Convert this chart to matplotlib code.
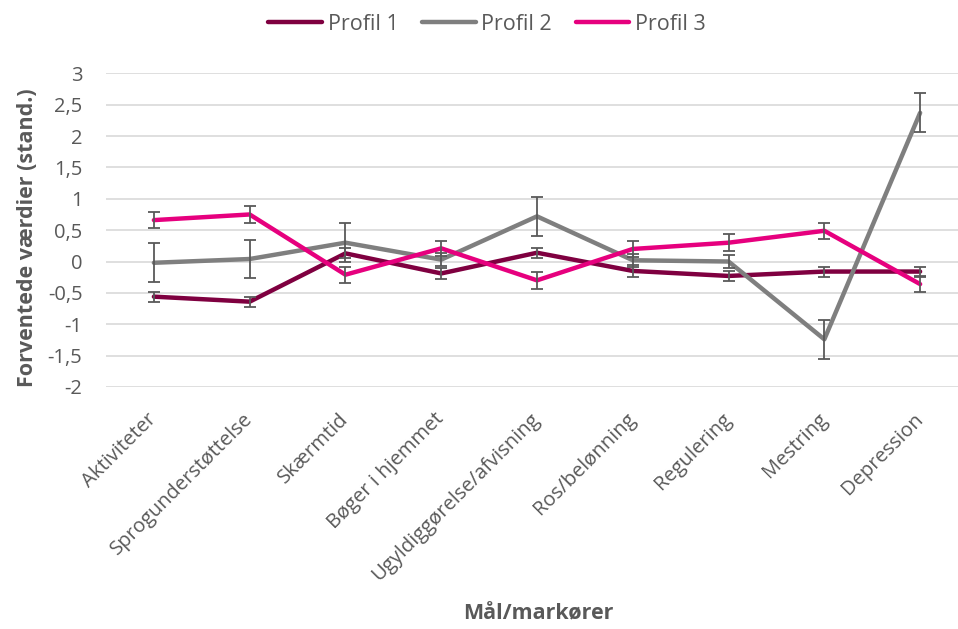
import matplotlib
matplotlib.use("Agg")
import matplotlib.pyplot as plt
import numpy as np

categories = ["Aktiviteter", "Sprogunderstøttelse", "Skærmtid", "Bøger i hjemmet",
              "Ugyldiggørelse/afvisning", "Ros/belønning", "Regulering", "Mestring", "Depression"]
series_names = ["Profil 1", "Profil 2", "Profil 3"]
profil1 = [-0.56, -0.64, 0.13, -0.19, 0.14, -0.15, -0.23, -0.16, -0.16]
profil1_err = [0.08, 0.08, 0.08, 0.09, 0.08, 0.10, 0.08, 0.08, 0.08]
profil2 = [-0.02, 0.04, 0.30, 0.03, 0.72, 0.02, 0.00, -1.24, 2.37]
profil2_err = [0.31, 0.31, 0.31, 0.10, 0.31, 0.10, 0.10, 0.31, 0.31]
profil3 = [0.66, 0.75, -0.21, 0.21, -0.30, 0.20, 0.30, 0.49, -0.36]
profil3_err = [0.13, 0.13, 0.13, 0.12, 0.14, 0.13, 0.14, 0.13, 0.13]
yticks = [-2, -1.5, -1, -0.5, 0, 0.5, 1, 1.5, 2, 2.5, 3]
ytick_labels = ["-2", "-1,5", "-1", "-0,5", "0", "0,5", "1", "1,5", "2", "2,5", "3"]

colors = ["#7F0040", "#7F7F7F", "#E6007E"]
FONT = "Open Sans"
TXT = "#595959"

fig = plt.figure(figsize=(9.58, 6.29), dpi=100)
W, H = 958, 629
ax = fig.add_axes([106 / W, 1 - 387 / H, (968 - 106) / W, (387 - 73.3) / H])

x = np.arange(len(categories))
data = [(profil1, profil1_err), (profil2, profil2_err), (profil3, profil3_err)]
handles = []
for (vals, errs), c, name in zip(data, colors, series_names):
    ln, = ax.plot(x, vals, color=c, lw=3.2, solid_capstyle="round",
                  solid_joinstyle="round", label=name, zorder=3)
    handles.append(ln)
    ax.errorbar(x, vals, yerr=errs, fmt="none", ecolor="#595959", elinewidth=1.3,
                capsize=4.3, capthick=1.3, zorder=4)

ax.set_xlim(-0.5, len(categories) - 0.5)
ax.set_ylim(-2, 3)
ax.set_yticks(yticks)
ax.set_yticklabels(ytick_labels, fontsize=14.5, color=TXT, family=FONT)
ax.set_xticks(x)
ax.set_xticklabels(categories, rotation=45, ha="right", va="center", rotation_mode="anchor",
                   fontsize=14.5, color=TXT, family=FONT)
ax.tick_params(axis="y", length=0, pad=17)
ax.tick_params(axis="x", length=0, pad=21)
ax.grid(axis="y", color="#D9D9D9", lw=1.2, zorder=0)
for s in ax.spines.values():
    s.set_visible(False)

ax.set_ylabel("Forventede værdier (stand.)", fontsize=15.5, fontweight="bold",
              color=TXT, family=FONT)
ax.yaxis.set_label_coords(-68 / (968 - 106), (387 - 237.5) / (387 - 73.3))
fig.text(538 / W, 1 - 614 / H, "Mål/markører", fontsize=15.5, fontweight="bold",
         color=TXT, family=FONT, ha="center", va="center")

leg = fig.legend(handles=handles, loc="center", bbox_to_anchor=(487 / W, 1 - 24 / H),
                 ncol=3, frameon=False, handlelength=2.5, handletextpad=0.25,
                 columnspacing=1.1, prop={"family": FONT, "size": 15.5})
for t in leg.get_texts():
    t.set_color(TXT)

fig.savefig("out.png", dpi=100)
